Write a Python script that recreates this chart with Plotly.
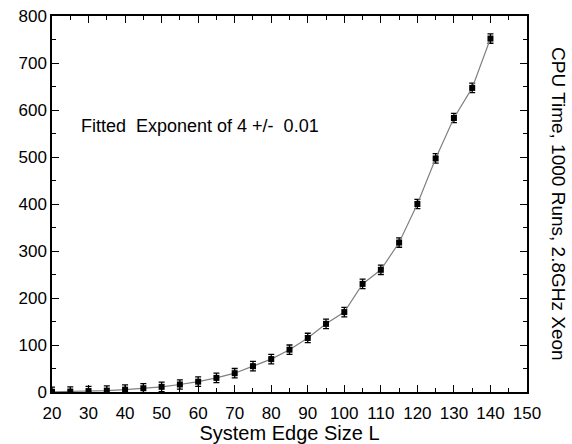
import plotly.graph_objects as go

L = [20, 25, 30, 35, 40, 45, 50, 55, 60, 65, 70, 75, 80, 85, 90, 95, 100, 105, 110, 115, 120, 125, 130, 135, 140]
cpu_time = [0.5, 1, 2, 3, 5, 8, 11, 16, 22, 30, 40, 55, 70, 90, 115, 145, 170, 230, 260, 318, 400, 497, 583, 647, 752]
err = [10] * len(L)

x_ticks = [20, 30, 40, 50, 60, 70, 80, 90, 100, 110, 120, 130, 140, 150]
y_ticks = [0, 100, 200, 300, 400, 500, 600, 700, 800]

font = "Liberation Sans, Arial, Helvetica, sans-serif"

fig = go.Figure()
fig.add_trace(go.Scatter(
    x=L, y=cpu_time, mode="lines+markers",
    line=dict(color="#808080", width=1.2),
    marker=dict(symbol="square", size=6, color="black"),
    error_y=dict(type="data", array=err, color="black", thickness=1.3, width=3),
    showlegend=False,
))

axis_common = dict(
    showline=True, linecolor="black", linewidth=1.5, mirror="ticks",
    ticks="inside", ticklen=7, tickwidth=1.3, tickcolor="black",
    showgrid=False, zeroline=False, automargin=False,
    tickfont=dict(family=font, size=17, color="black"),
)

fig.update_layout(
    width=572, height=444,
    margin=dict(l=52, r=45, t=16, b=52),
    plot_bgcolor="white", paper_bgcolor="white",
    xaxis=dict(range=[20, 150], tickvals=x_ticks, ticktext=[str(v) for v in x_ticks],
               ticklabelstandoff=5,
               minor=dict(dtick=5, ticks="inside", ticklen=4, tickcolor="black", tickwidth=1.2),
               title=dict(text="System Edge Size L", font=dict(family=font, size=20, color="black"), standoff=0),
               **axis_common),
    yaxis=dict(range=[0, 800], tickvals=y_ticks, ticktext=[str(v) for v in y_ticks],
               minor=dict(dtick=50, ticks="inside", ticklen=4, tickcolor="black", tickwidth=1.2),
               **axis_common),
)

fig.add_annotation(x=27.3, y=566, xref="x", yref="y", text="Fitted  Exponent of 4 +/-  0.01",
                   showarrow=False, xanchor="left", yanchor="middle",
                   font=dict(family=font, size=18, color="black"))
fig.add_annotation(x=1.0, y=0.5, xref="paper", yref="paper", xshift=32,
                   text="CPU Time, 1000 Runs, 2.8GHz Xeon", textangle=90,
                   showarrow=False, xanchor="center", yanchor="middle",
                   font=dict(family=font, size=19, color="black"))

fig.write_html("out.html", config={"displayModeBar": False},
               post_script="document.body.style.margin='0';")
